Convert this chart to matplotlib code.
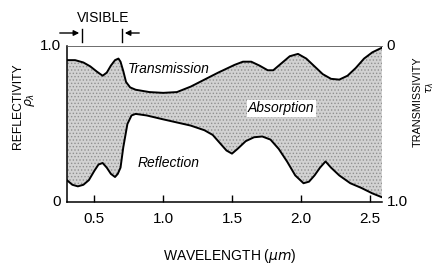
import matplotlib.pyplot as plt
import numpy as np

plt.rcParams['font.family'] = ['Liberation Sans', 'DejaVu Sans']
plt.rcParams['hatch.linewidth'] = 0.6

# wavelength (um) and boundary of the transmission band (in reflectivity units)
wl_top = [0.30, 0.36, 0.42, 0.47, 0.52, 0.56, 0.59, 0.62, 0.65, 0.675, 0.69, 0.71,
          0.73, 0.76, 0.80, 0.90, 1.00, 1.10, 1.20, 1.30, 1.40, 1.46, 1.52, 1.58,
          1.64, 1.70, 1.76, 1.80, 1.86, 1.92, 1.98, 2.04, 2.10, 2.16, 2.22, 2.28,
          2.34, 2.40, 2.46, 2.52, 2.59]
top = [0.91, 0.91, 0.895, 0.87, 0.835, 0.81, 0.83, 0.875, 0.91, 0.92, 0.90, 0.84,
       0.77, 0.735, 0.72, 0.705, 0.70, 0.705, 0.74, 0.785, 0.83, 0.855, 0.88, 0.90,
       0.90, 0.875, 0.845, 0.845, 0.89, 0.935, 0.95, 0.92, 0.87, 0.82, 0.79, 0.785,
       0.81, 0.86, 0.92, 0.96, 0.99]

# reflectivity curve
wl_bot = [0.30, 0.34, 0.38, 0.42, 0.46, 0.50, 0.53, 0.56, 0.59, 0.62, 0.65, 0.67,
          0.69, 0.71, 0.74, 0.77, 0.80, 0.88, 1.00, 1.10, 1.20, 1.30, 1.36, 1.42,
          1.46, 1.50, 1.54, 1.60, 1.66, 1.72, 1.78, 1.84, 1.90, 1.96, 2.02, 2.06,
          2.10, 2.14, 2.18, 2.22, 2.28, 2.36, 2.44, 2.52, 2.59]
bot = [0.14, 0.11, 0.10, 0.11, 0.14, 0.20, 0.24, 0.25, 0.22, 0.18, 0.16, 0.18,
       0.22, 0.35, 0.50, 0.555, 0.565, 0.555, 0.53, 0.51, 0.49, 0.46, 0.43, 0.37,
       0.33, 0.31, 0.34, 0.39, 0.415, 0.42, 0.40, 0.34, 0.26, 0.17, 0.12, 0.13,
       0.17, 0.22, 0.26, 0.22, 0.17, 0.12, 0.09, 0.055, 0.03]

xticks = [0.5, 1.0, 1.5, 2.0, 2.5]

fig = plt.figure(figsize=(4.37, 2.65), dpi=100)
ax = fig.add_axes([0.153, 0.238, 0.721, 0.588])

x = np.linspace(0.30, 2.59, 400)
y_top = np.interp(x, wl_top, top)
y_bot = np.interp(x, wl_bot, bot)
ax.fill_between(x, y_bot, y_top, facecolor='#d2d2d2', edgecolor='#909090',
                hatch='.....', linewidth=0)
ax.plot(wl_top, top, color='black', lw=1.4)
ax.plot(wl_bot, bot, color='black', lw=1.4)

ax.set_xlim(0.30, 2.59)
ax.set_ylim(0, 1.0)
ax.spines['right'].set_visible(False)
ax.spines['top'].set_linewidth(0.6)
ax.spines['top'].set_color('#555555')
ax.spines['left'].set_linewidth(1.1)
ax.spines['bottom'].set_linewidth(1.1)
ax.set_xticks(xticks)
ax.set_xticklabels(['0.5', '1.0', '1.5', '2.0', '2.5'], fontsize=11)
ax.tick_params(axis='x', direction='in', length=5, width=1, pad=7)
ax.set_yticks([])
ax.text(-0.02, 1.0, '1.0', transform=ax.transAxes, ha='right', va='center', fontsize=11)
ax.text(-0.02, 0.0, '0', transform=ax.transAxes, ha='right', va='center', fontsize=11)
ax.text(1.015, 1.0, '0', transform=ax.transAxes, ha='left', va='center', fontsize=11)
ax.text(1.015, 0.0, '1.0', transform=ax.transAxes, ha='left', va='center', fontsize=11)

ax.text(1.04, 0.85, 'Transmission', style='italic', fontsize=10, ha='center', va='center')
ax.text(1.86, 0.60, 'Absorption', style='italic', fontsize=10, ha='center', va='center',
        bbox=dict(facecolor='white', edgecolor='none', pad=1))
ax.text(1.04, 0.25, 'Reflection', style='italic', fontsize=10, ha='center', va='center')

# visible band marker
fig.text(103 / 437, 1 - 18 / 265, 'VISIBLE', fontsize=10, ha='center', va='center')
fig.add_artist(plt.Line2D([82 / 437, 82 / 437], [1 - 29 / 265, 1 - 42 / 265], color='black', lw=1))
fig.add_artist(plt.Line2D([122 / 437, 122 / 437], [1 - 29 / 265, 1 - 42 / 265], color='black', lw=1))
ax.annotate('', xy=(82 / 437, 1 - 33 / 265), xytext=(57 / 437, 1 - 33 / 265),
            xycoords='figure fraction', textcoords='figure fraction',
            arrowprops=dict(arrowstyle='-|>', color='black', lw=1, mutation_scale=8))
ax.annotate('', xy=(122 / 437, 1 - 33 / 265), xytext=(142 / 437, 1 - 33 / 265),
            xycoords='figure fraction', textcoords='figure fraction',
            arrowprops=dict(arrowstyle='-|>', color='black', lw=1, mutation_scale=8))

fig.text(18 / 437, 1 - 106 / 265, 'REFLECTIVITY', rotation=90, fontsize=8.7,
         ha='center', va='center')
fig.text(30 / 437, 1 - 100 / 265, r'$\rho_\lambda$', rotation=90, fontsize=9,
         ha='center', va='center')
fig.text(418 / 437, 1 - 102 / 265, 'TRANSMISSIVITY', rotation=90, fontsize=7.8,
         ha='center', va='center')
fig.text(430 / 437, 1 - 88 / 265, r'$\tau_\lambda$', rotation=90, fontsize=8,
         ha='center', va='center')
fig.text(230 / 437, 1 - 256 / 265, r'WAVELENGTH ($\mu m$)', fontsize=10,
         ha='center', va='center')

fig.savefig('out.png', dpi=100)
